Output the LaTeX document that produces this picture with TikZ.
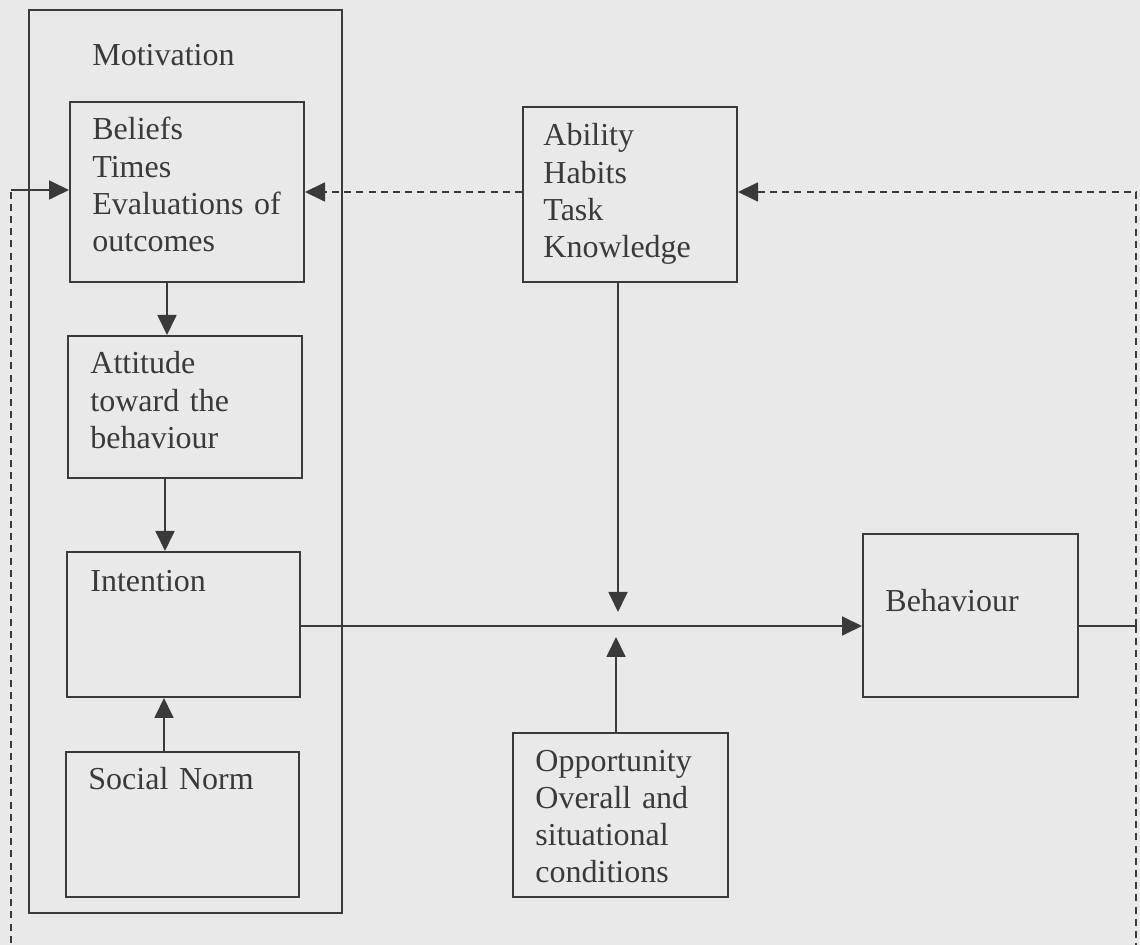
\documentclass[tikz,border=0pt]{standalone}
\usepackage{fontspec}
\setmainfont{Liberation Serif}
\usetikzlibrary{arrows.meta,fit}
\definecolor{paper}{HTML}{E9E9E9}
\definecolor{ink}{HTML}{3A3A3A}
\tikzset{
  box/.style={draw=ink, line width=1pt, inner sep=0pt},
  lbl/.style={anchor=base west, inner sep=0pt, text width=120pt, align=left,
              text=ink, font=\fontsize{16pt}{18.6pt}\selectfont},
  link/.style={draw=ink, line width=0.9pt},
  tip/.style={-{Triangle[length=10pt,width=9.5pt]}},
  dash line/.style={link, dash pattern=on 3.5pt off 2.6pt},
}
\begin{document}
\begin{tikzpicture}[x=0.5pt, y=-0.5pt]
  \fill[paper] (0,0) rectangle (1140,945);
  \clip (0,0) rectangle (1140,945);

  % frames
  \node[box, fit={(29,10) (342,913)}] (motiv) {};
  \node[box, fit={(70,102) (304,282)}] (beliefs) {};
  \node[box, fit={(68,336) (302,478)}] (attitude) {};
  \node[box, fit={(67,552) (300,697)}] (intention) {};
  \node[box, fit={(66,752) (299,897)}] (social) {};
  \node[box, fit={(523,107) (737,282)}] (ability) {};
  \node[box, fit={(513,733) (728,897)}] (opport) {};
  \node[box, fit={(863,534) (1078,697)}] (behav) {};

  % texts
  \node[lbl] (tmotiv) at (92,66) {Motivation};
  \node[lbl] (tbeliefs) at (92,140) {Beliefs\\Times\\Evaluations of\\outcomes};
  \node[lbl] (tattitude) at (90,374) {Attitude\\toward the\\behaviour};
  \node[lbl] (tintention) at (90,592) {Intention};
  \node[lbl] (tsocial) at (88,789) {Social Norm};
  \node[lbl] (tability) at (543,146) {Ability\\Habits\\Task\\Knowledge};
  \node[lbl] (topport) at (535,771) {Opportunity\\Overall and\\situational\\conditions};
  \node[lbl] (tbehav) at (885,612) {Behaviour};

  % helper coordinates
  \coordinate (xa) at (167,0);
  \coordinate (xb) at (165,0);
  \coordinate (xc) at (164,0);
  \coordinate (main) at (0,626);
  \coordinate (jtop) at (618,612);
  \coordinate (jbot) at (616,637);
  \coordinate (fbR) at (1136,626);
  \coordinate (fbRtop) at (1136,192);
  \coordinate (fbRbot) at (1136,960);
  \coordinate (fbLbot) at (11,960);
  \coordinate (fbLtop) at (11,190);

  % solid connectors
  \draw[link, tip] (beliefs.south -| xa) -- (attitude.north -| xa);
  \draw[link, tip] (attitude.south -| xb) -- (intention.north -| xb);
  \draw[link, tip] (social.north -| xc) -- (intention.south -| xc);
  \draw[link, tip] (intention.east |- main) -- (behav.west |- main);
  \draw[link, tip] (ability.south -| jtop) -- (jtop);
  \draw[link, tip] (opport.north -| jbot) -- (jbot);

  % feedback loops
  \draw[dash line, tip] (ability.west |- fbRtop) -- (beliefs.east |- fbRtop);
  \draw[link] (behav.east |- fbR) -- (fbR);
  \draw[dash line, tip] (fbR) -- (fbRtop) -- (ability.east |- fbRtop);
  \draw[dash line] (fbR) -- (fbRbot) -- (fbLbot) -- (fbLtop);
  \draw[link, tip] (fbLtop) -- (beliefs.west |- fbLtop);
\end{tikzpicture}
\end{document}
